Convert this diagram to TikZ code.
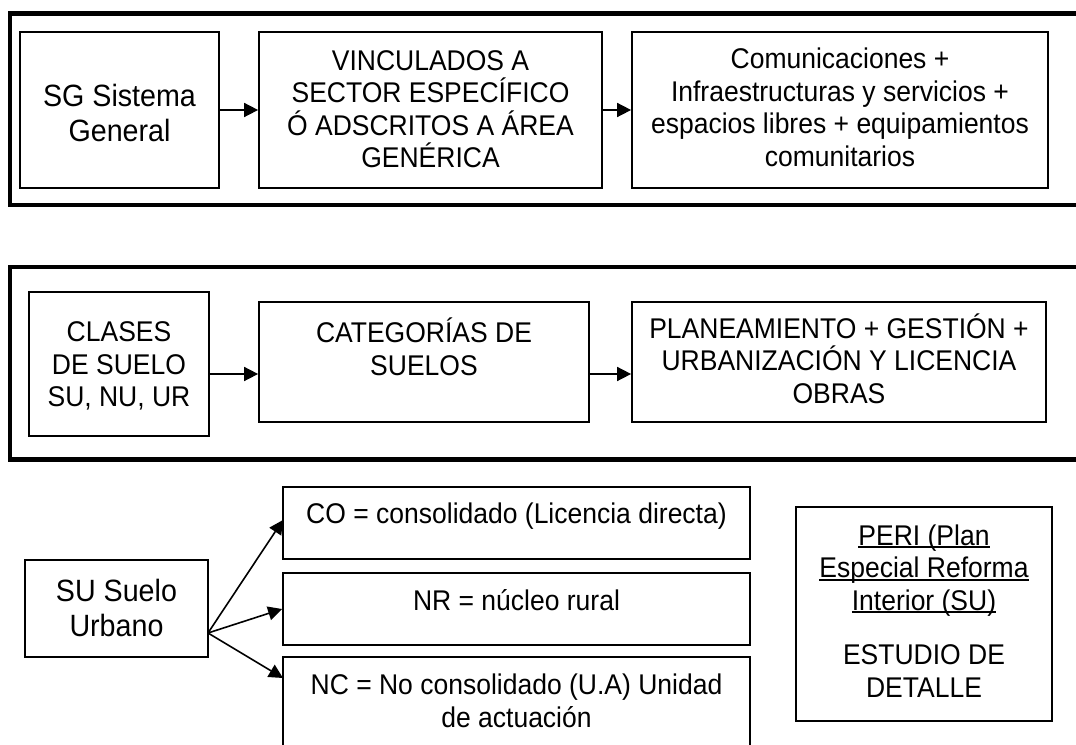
\documentclass[tikz,border=0pt]{standalone}
\usepackage{fontspec}
\setmainfont{Liberation Sans}[FakeStretch=0.93]
\usetikzlibrary{arrows.meta,fit}
\newcommand\lineunder[1]{\setbox0\hbox{#1}\rlap{\rule[-0.1em]{\wd0}{0.06em}}\box0}
\begin{document}
\begin{tikzpicture}[x=0.75pt,y=-0.75pt,
  box/.style={draw,line width=1.3pt,inner sep=0pt},
  txt/.style={inner sep=0pt,align=center,font=\fontsize{21.37}{24.4}\selectfont},
  bigtxt/.style={inner sep=0pt,align=center,font=\fontsize{23.1}{26.25}\selectfont},
  frame/.style={draw,line width=3.4pt},
  arr/.style={line width=1.2pt,-{Triangle[length=10.5pt,width=10.5pt]}}]
\useasboundingbox (0,0) rectangle (1076,745);
\clip (0,0) rectangle (1076,745);
% frames (open on the right)
\draw[frame] (1100,13.5) -- (10,13.5) -- (10,205) -- (1100,205);
\draw[frame] (1100,267) -- (10,267) -- (10,459.5) -- (1100,459.5);
% row 1
\node[box,fit={(20,32) (219,188)}] (SG) {};
\node[bigtxt] (SGt) at (119.5,113) {SG Sistema\\General};
\node[box,fit={(259,32) (602,188)}] (VIN) {};
\node[txt] (VINt) at (430.5,109) {VINCULADOS A\\SECTOR ESPECÍFICO\\Ó ADSCRITOS A ÁREA\\GENÉRICA};
\node[box,fit={(632,32) (1048,188)}] (COM) {};
\node[txt] (COMt) at (840,107.5) {Comunicaciones +\\Infraestructuras y servicios +\\espacios libres + equipamientos\\comunitarios};
\draw[arr] (SG) -- (VIN);
\draw[arr] (VIN) -- (COM);
% row 2
\node[box,fit={(29,292) (209,436)}] (CLA) {};
\node[txt] (CLAt) at (119,366) {CLASES\\DE SUELO\\SU, NU, UR};
\node[box,fit={(259,302) (589,422)}] (CAT) {};
\node[txt] (CATt) at (424,347) {CATEGORÍAS DE\\SUELOS};
\node[box,fit={(632,302) (1046,422)}] (PLA) {};
\node[txt] (PLAt) at (839,358.5) {PLANEAMIENTO + GESTIÓN +\\URBANIZACIÓN Y LICENCIA\\OBRAS};
\coordinate (r2) at (0,374);
\draw[arr] (CLA.east |- r2) -- (CAT.west |- r2);
\draw[arr] (CAT.east |- r2) -- (PLA.west |- r2);
% row 3
\node[box,fit={(25,560) (208,657)}] (SU) {};
\node[bigtxt] (SUt) at (116.5,607.5) {SU Suelo\\Urbano};
\node[box,fit={(283,487) (750,559)}] (CO) {};
\node[txt] (COt) at (516.5,516) {CO = consolidado (Licencia directa)};
\node[box,fit={(283,573) (750,645)}] (NR) {};
\node[txt] (NRt) at (516.5,600) {NR = núcleo rural};
\node[box,fit={(283,657) (750,800)}] (NC) {};
\node[txt] (NCt) at (516.5,701) {NC = No consolidado (U.A) Unidad\\de actuación};
\coordinate (fork) at (208,633);
\coordinate (ncin) at (283,678);
\coordinate (coin) at (283,520);
\draw[arr] (fork) -- (coin);
\draw[arr] (fork) -- (NR.west);
\draw[arr] (fork) -- (ncin);
% PERI box
\node[box,fit={(796,507) (1052,721)}] (PERI) {};
\node[txt] (PERIt) at (924,611) {\lineunder{PERI (Plan}\\\lineunder{Especial Reforma}\\\lineunder{Interior (SU)}\\[16.5pt]ESTUDIO DE\\DETALLE};
\end{tikzpicture}
\end{document}
